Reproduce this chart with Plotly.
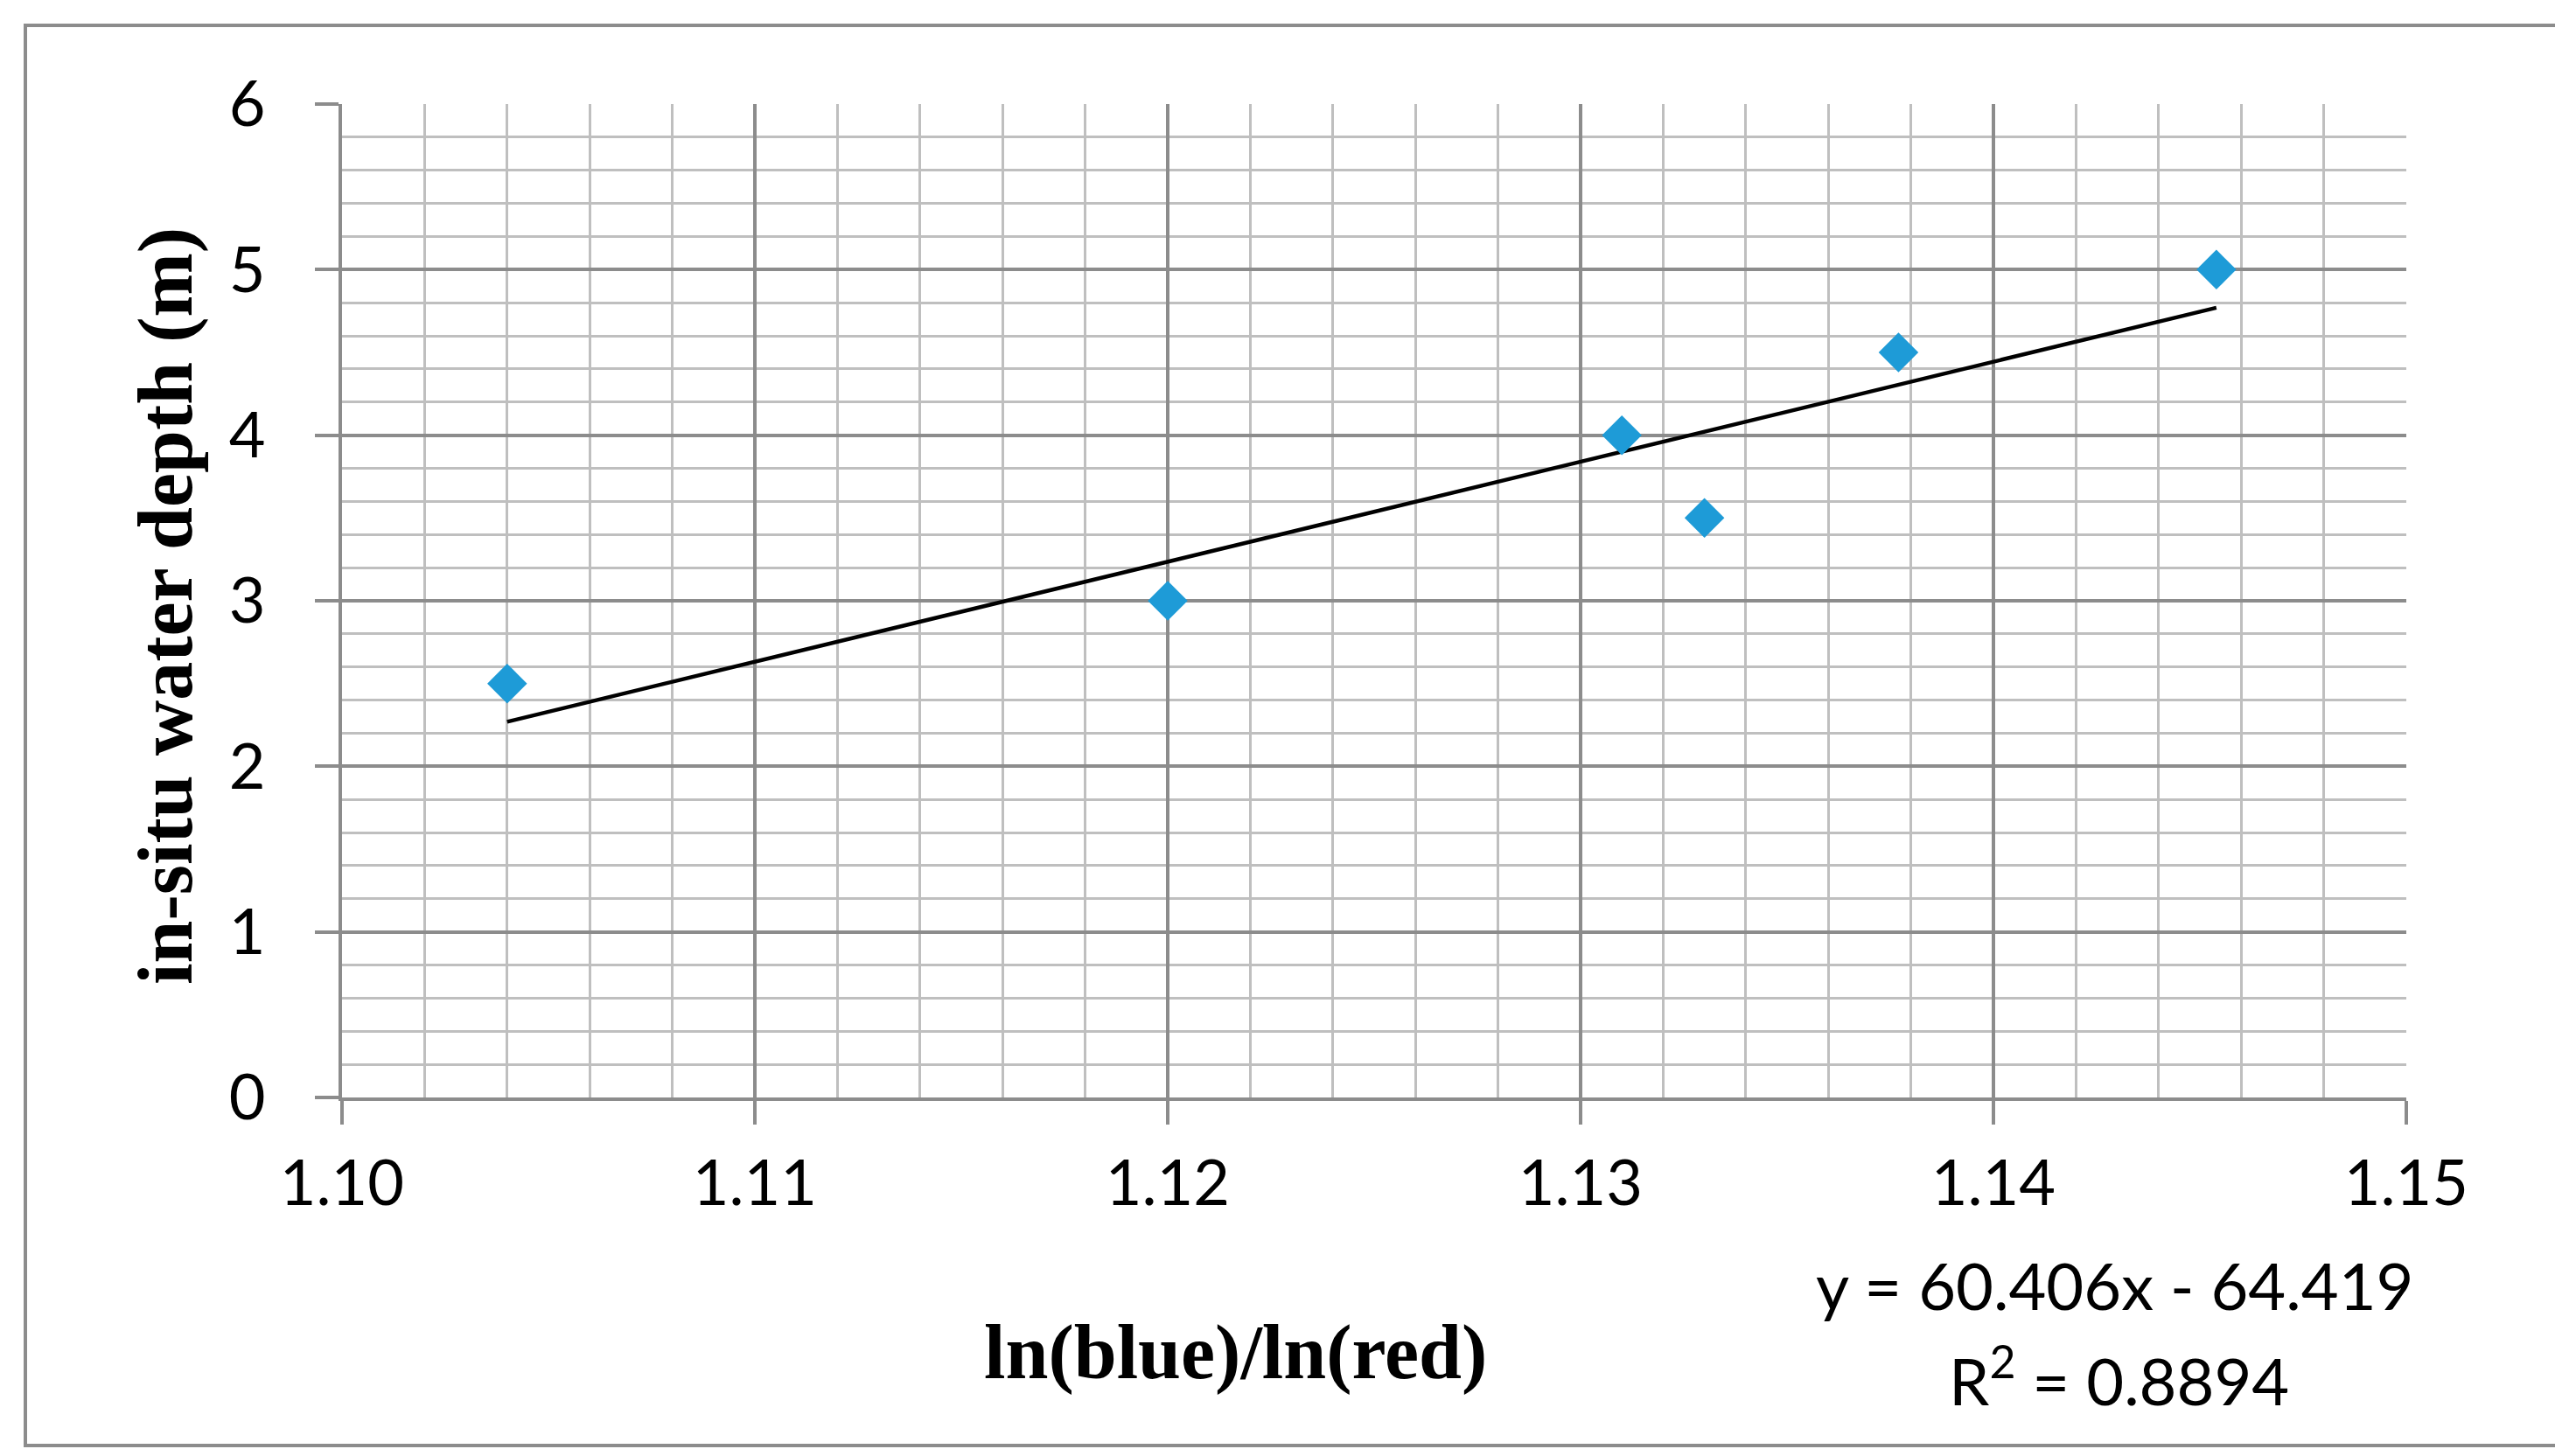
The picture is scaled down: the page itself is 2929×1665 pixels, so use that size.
import plotly.graph_objects as go

# data
ratio = [1.104, 1.120, 1.131, 1.133, 1.1377, 1.1454]
depth = [2.5, 3.0, 4.0, 3.5, 4.5, 5.0]

# trendline as printed on the chart
slope = 60.406
intercept = -64.419
r2 = 0.8894

x_ticks = [1.10, 1.11, 1.12, 1.13, 1.14, 1.15]
y_ticks = [0, 1, 2, 3, 4, 5, 6]

W, H = 2929, 1665
L, R, T, B = 383, 2743, 111, 1247


def px(x):
    return (x - L) / (R - L)


def py(y):
    return (B - y) / (B - T)


major = "#8c8c8c"
minor = "#bfbfbf"
sans = "Lato"
serif = "Liberation Serif"

fit_x = [min(ratio), max(ratio)]
fit_y = [slope * v + intercept for v in fit_x]

fig = go.Figure()

fig.add_trace(go.Scatter(x=fit_x, y=fit_y, mode="lines",
                         line=dict(color="black", width=4.5),
                         showlegend=False, hoverinfo="skip"))

fig.add_trace(go.Scatter(x=ratio, y=depth, mode="markers",
                         marker=dict(symbol="diamond", size=35, color="#1e9bd7",
                                     line=dict(width=0)),
                         showlegend=False))

axis_common = dict(
    showline=True, linecolor=major, linewidth=4,
    showgrid=True, gridcolor=major, gridwidth=4,
    ticks="outside", ticklen=27, tickwidth=4, tickcolor=major,
    tickfont=dict(family=sans, size=72, color="black"),
    zeroline=False, mirror=False,
)

fig.update_xaxes(range=[1.10, 1.15], tickvals=x_ticks, tickformat=".2f",
                 minor=dict(dtick=0.002, showgrid=True, gridcolor=minor, gridwidth=3, ticks=""),
                 ticklabelstandoff=6, **axis_common)
fig.update_yaxes(range=[0, 6], tickvals=y_ticks,
                 minor=dict(dtick=0.2, showgrid=True, gridcolor=minor, gridwidth=3, ticks=""),
                 ticklabelstandoff=42, **axis_common)

# outer chart frame
fig.add_shape(type="rect", xref="paper", yref="paper",
              x0=px(21), x1=px(2923), y0=py(1645), y1=py(21),
              line=dict(color=major, width=4), fillcolor="rgba(0,0,0,0)", layer="below")

fig.add_annotation(x=px(1404), y=py(1538), xref="paper", yref="paper",
                   text="<b>ln(blue)/ln(red)</b>", showarrow=False,
                   xanchor="center", yanchor="middle",
                   font=dict(family=serif, size=88, color="black"))
fig.add_annotation(x=px(182), y=py(685), xref="paper", yref="paper",
                   text="<b>in-situ water depth (m)</b>", showarrow=False, textangle=-90,
                   xanchor="center", yanchor="middle",
                   font=dict(family=serif, size=88, color="black"))

fig.add_annotation(x=px(2410), y=py(1461), xref="paper", yref="paper",
                   text=f"y = {slope:.3f}x - {abs(intercept):.3f}", showarrow=False,
                   xanchor="center", yanchor="middle",
                   font=dict(family=sans, size=74, color="black"))
fig.add_annotation(x=px(2414), y=py(1566), xref="paper", yref="paper",
                   text=f"R<sup>2</sup> = {r2:.4f}", showarrow=False,
                   xanchor="center", yanchor="middle",
                   font=dict(family=sans, size=74, color="black"))

fig.update_layout(width=W, height=H,
                  margin=dict(l=L, r=W - R, t=T, b=H - B),
                  paper_bgcolor="white", plot_bgcolor="white")

fig.write_html("out.html")
